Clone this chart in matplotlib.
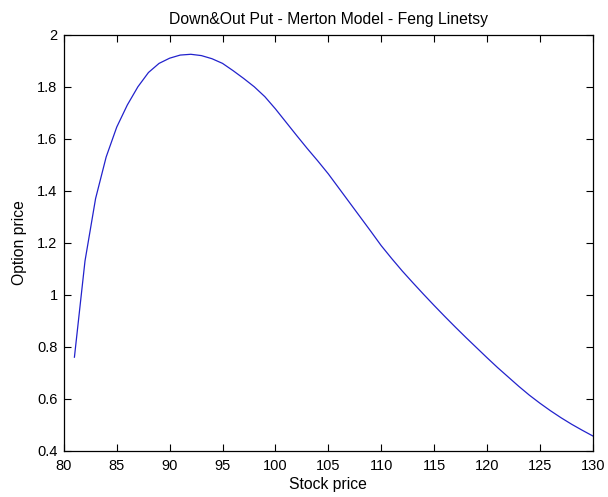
import matplotlib
matplotlib.use('Agg')
import matplotlib.pyplot as plt

# stock price grid and option price
stock = [81, 82, 83, 84, 85, 86, 87, 88, 89, 90,
         91, 92, 93, 94, 95, 96, 97, 98, 99, 100,
         101, 102, 103, 104, 105, 106, 107, 108, 109, 110,
         111, 112, 113, 114, 115, 116, 117, 118, 119, 120,
         121, 122, 123, 124, 125, 126, 127, 128, 129, 130]
price = [0.76, 1.13, 1.37, 1.53, 1.645, 1.73, 1.80, 1.855, 1.89, 1.91,
         1.922, 1.925, 1.92, 1.908, 1.89, 1.862, 1.832, 1.80, 1.762, 1.715,
         1.664, 1.613, 1.563, 1.515, 1.465, 1.41, 1.355, 1.30, 1.245, 1.189,
         1.139, 1.091, 1.046, 1.002, 0.959, 0.917, 0.876, 0.836, 0.797, 0.758,
         0.72, 0.684, 0.648, 0.614, 0.583, 0.554, 0.527, 0.502, 0.479, 0.457]

xticks = [80, 85, 90, 95, 100, 105, 110, 115, 120, 125, 130]
yticks = [0.4, 0.6, 0.8, 1, 1.2, 1.4, 1.6, 1.8, 2]
yticklabels = ['0.4', '0.6', '0.8', '1', '1.2', '1.4', '1.6', '1.8', '2']

plt.rcParams['font.family'] = ['Liberation Sans', 'DejaVu Sans']

fig = plt.figure(figsize=(6.08, 4.97), dpi=100)
ax = fig.add_axes([0.105, 0.093, 0.870, 0.837])
ax.plot(stock, price, color='#2222cc', linewidth=0.9)
ax.set_xlim(80, 130)
ax.set_ylim(0.4, 2)
ax.set_xticks(xticks)
ax.set_yticks(yticks)
ax.set_yticklabels(yticklabels)
ax.tick_params(direction='in', length=5, width=0.8, top=True, right=True,
               labelsize=10.5)
ax.tick_params(axis='x', pad=6)
ax.tick_params(axis='y', pad=4.5)
for s in ax.spines.values():
    s.set_linewidth(0.9)
ax.set_title('Down&Out Put - Merton Model - Feng Linetsy', fontsize=11.3, pad=8)
ax.set_xlabel('Stock price', fontsize=11.3, labelpad=3)
ax.set_ylabel('Option price', fontsize=11.3, labelpad=7)

fig.savefig('out.png', dpi=100)
